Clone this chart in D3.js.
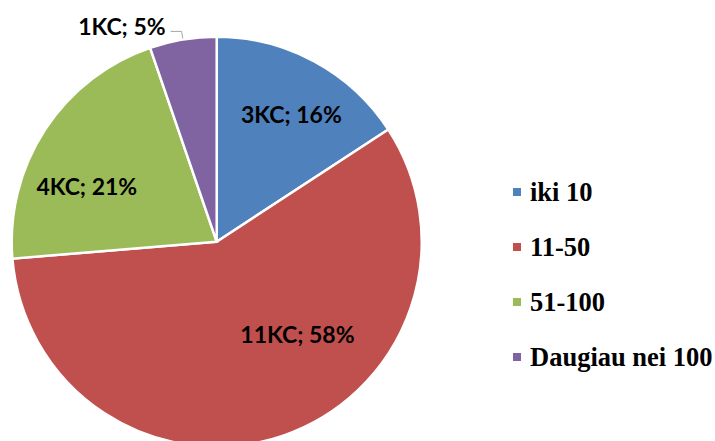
<!DOCTYPE html>
<html>
<head>
<meta charset="UTF-8">
<title>Pie</title>
<script src="https://d3js.org/d3.v7.min.js"></script>
<style>
    body { margin: 0; background: white; }
    .slice { stroke: white; stroke-width: 2.5; }
    .lbl { font-family: Lato, "Open Sans", sans-serif; font-weight: bold; font-size: 23px; fill: black; }
    .leg { font-family: "Liberation Serif", "Times New Roman", serif; font-weight: bold; font-size: 26.5px; fill: black; }
    .leader { fill: none; stroke: #a6a6a6; stroke-width: 1; }
</style>
</head>
<body>
<script>
    var categories = ["iki 10", "11-50", "51-100", "Daugiau nei 100"];
    var counts = [3, 11, 4, 1];
    var colors = ["#4F81BD", "#C0504D", "#9BBB59", "#8064A2"];

    // where each label sits inside its slice: fraction of the slice angle, fraction of radius
    var labelSpot = [[0.535, 0.72], [0.394, 0.60], [0.37, 0.69], null];

    var width = 715, height = 441;
    var cx = 216.7, cy = 241.7, radius = 205;

    var svg = d3.select("body").append("svg")
        .attr("width", width).attr("height", height);

    var g = svg.append("g").attr("transform", "translate(" + cx + "," + cy + ")");

    var total = d3.sum(counts);
    var pie = d3.pie().sort(null).value(function (d) { return d; });
    var arcs = pie(counts);

    var arc = d3.arc().innerRadius(0).outerRadius(radius);

    g.selectAll("path.slice")
        .data(arcs)
        .enter().append("path")
        .attr("class", "slice")
        .attr("d", arc)
        .attr("fill", function (d, i) { return colors[i]; });

    function polar(a, r) {
        return [Math.sin(a) * r, -Math.cos(a) * r];
    }

    function labelText(d) {
        return d.data + "KC; " + Math.round(d.data / total * 100) + "%";
    }

    arcs.forEach(function (d, i) {
        var spot = labelSpot[i];
        if (spot) {
            var a = d.startAngle + spot[0] * (d.endAngle - d.startAngle);
            var p = polar(a, spot[1] * radius);
            g.append("text")
                .attr("class", "lbl")
                .attr("x", p[0]).attr("y", p[1])
                .attr("text-anchor", "middle")
                .attr("dominant-baseline", "central")
                .text(labelText(d));
        } else {
            var mid = (d.startAngle + d.endAngle) / 2;
            var p0 = polar(mid, radius * 1.005);
            var p1 = polar(mid, radius * 1.04);
            var p2 = [p1[0] - 11, p1[1]];
            g.append("path")
                .attr("class", "leader")
                .attr("d", "M" + p0 + "L" + p1 + "L" + p2);
            g.append("text")
                .attr("class", "lbl")
                .attr("x", p2[0] - 5).attr("y", p2[1] - 5)
                .attr("text-anchor", "end")
                .attr("dominant-baseline", "central")
                .text(labelText(d));
        }
    });

    var legend = svg.append("g").selectAll("g")
        .data(categories)
        .enter().append("g")
        .attr("transform", function (d, i) { return "translate(513," + (192 + i * 55) + ")"; });

    legend.append("rect")
        .attr("x", 0).attr("y", -4)
        .attr("width", 8).attr("height", 8)
        .attr("fill", function (d, i) { return colors[i]; });

    legend.append("text")
        .attr("class", "leg")
        .attr("x", 17).attr("y", 0)
        .attr("dominant-baseline", "central")
        .text(function (d) { return d; });
</script>
</body>
</html>
